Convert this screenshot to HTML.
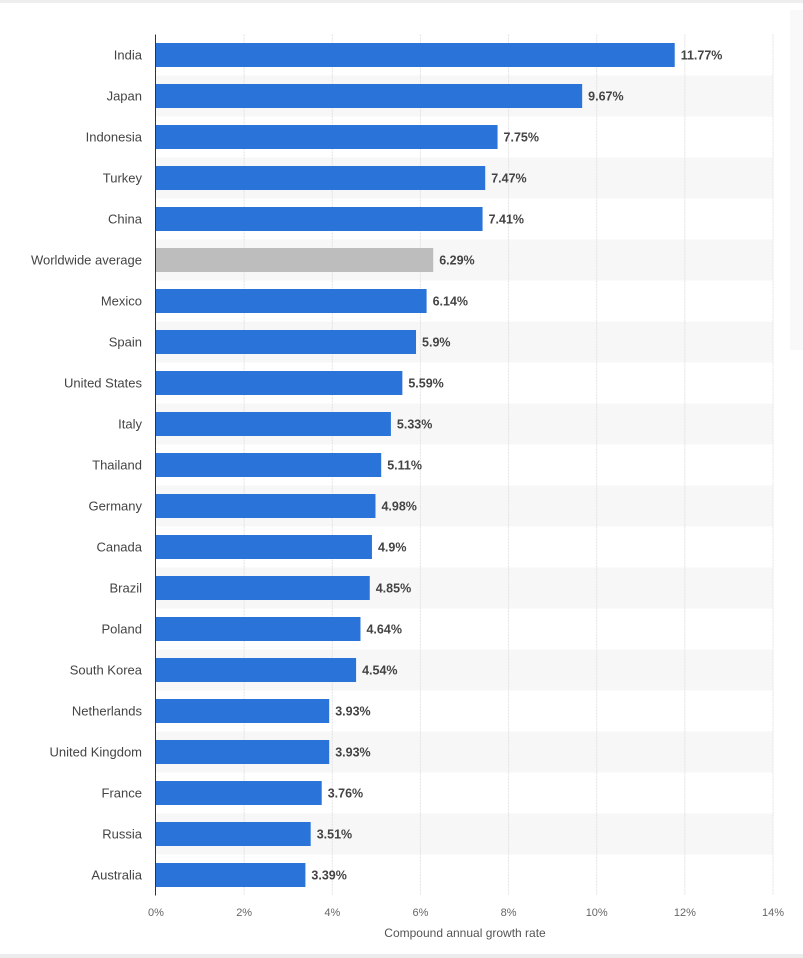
<!DOCTYPE html>
<html><head><meta charset="utf-8"><style>
body{margin:0;background:#fff;font-family:"Liberation Sans",sans-serif}
#wrap{position:relative;width:803px;height:958px;overflow:hidden;background:#fff}
</style></head><body>
<div id="wrap">
<div style="position:absolute;left:0;top:0;width:803px;height:3px;background:#eeeeee"></div>
<div style="position:absolute;left:0;top:954px;width:803px;height:4px;background:#ececec"></div>
<div style="position:absolute;left:790px;top:10px;width:13px;height:340px;background:#f9f9f9"></div>
<svg id="chart" width="803" height="958" style="position:absolute;left:0;top:0"></svg>
</div>
<script>
const categories=["India","Japan","Indonesia","Turkey","China","Worldwide average","Mexico","Spain","United States","Italy","Thailand","Germany","Canada","Brazil","Poland","South Korea","Netherlands","United Kingdom","France","Russia","Australia"];
const values=[11.77,9.67,7.75,7.47,7.41,6.29,6.14,5.9,5.59,5.33,5.11,4.98,4.9,4.85,4.64,4.54,3.93,3.93,3.76,3.51,3.39];
const valueLabels=["11.77%","9.67%","7.75%","7.47%","7.41%","6.29%","6.14%","5.9%","5.59%","5.33%","5.11%","4.98%","4.9%","4.85%","4.64%","4.54%","3.93%","3.93%","3.76%","3.51%","3.39%"];
const ticks=[0,2,4,6,8,10,12,14];
const tickLabels=["0%","2%","4%","6%","8%","10%","12%","14%"];
const NS="http://www.w3.org/2000/svg";
const svg=document.getElementById('chart');
const x0=156,x1=773,xmax=14,yTop=34.5,step=41,barH=24;
const x=v=>x0+(v/xmax)*(x1-x0);
const yc=i=>yTop+step*i+step/2;
function mk(t,a){const e=document.createElementNS(NS,t);for(const k in a)e.setAttribute(k,a[k]);svg.appendChild(e);return e;}
categories.forEach((c,i)=>{if(i%2===1){const r=mk('rect',{x:x0,y:yTop+step*i,width:x1-x0,height:step,fill:'#f7f7f7'});

}});
ticks.forEach((t,i)=>{if(i>0){const l=mk('line',{x1:x(t),x2:x(t),y1:yTop,y2:yTop+step*categories.length,stroke:'#e2e2e2','stroke-dasharray':'2,1'});

}
const tx=mk('text',{x:x(t),y:916,'text-anchor':'middle','font-size':'11',fill:'#666'});tx.textContent=tickLabels[i];

});
categories.forEach((c,i)=>{
const r=mk('rect',{x:x0,y:yc(i)-barH/2,width:x(values[i])-x0,height:barH,fill:c==="Worldwide average"?'#bdbdbd':'#2a74d9'});


const lb=mk('text',{x:142,y:yc(i)+4.5,'text-anchor':'end','font-size':'13',fill:'#444'});lb.textContent=c;


const vl=mk('text',{x:x(values[i])+6,y:yc(i)+4.5,'font-size':'12.5','font-weight':'bold',fill:'#444'});vl.textContent=valueLabels[i];

});
const ax=mk('line',{x1:155.5,x2:155.5,y1:yTop,y2:yTop+step*categories.length,stroke:'#333','stroke-width':1});


const at=mk('text',{x:465,y:937,'text-anchor':'middle','font-size':'12',fill:'#555'});at.textContent="Compound annual growth rate";


</script>
</body></html>
